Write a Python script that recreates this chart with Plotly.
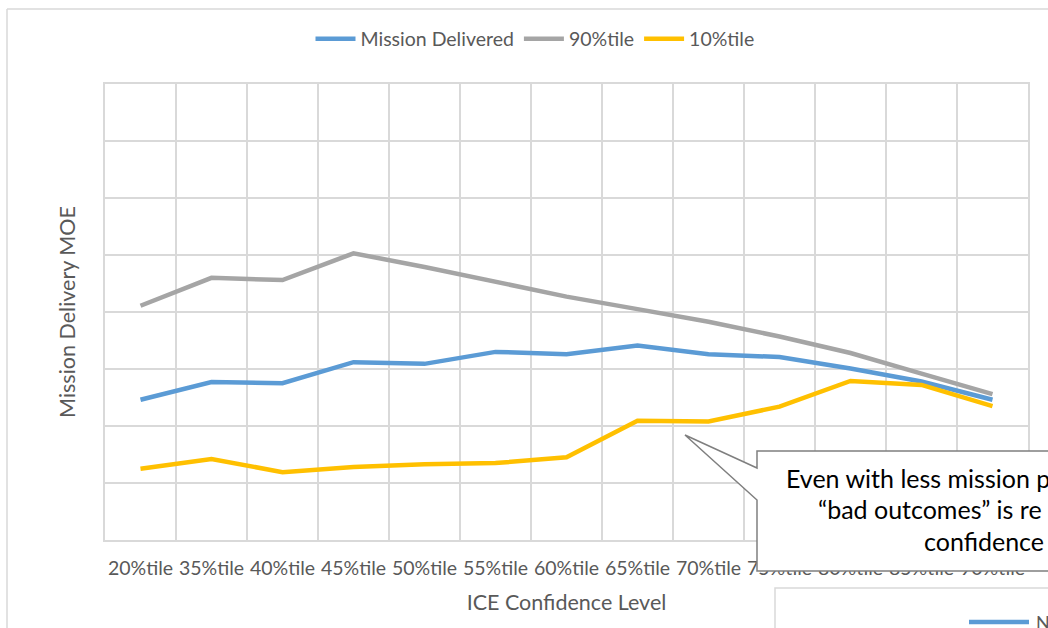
import plotly.graph_objects as go

categories = ["20%tile", "35%tile", "40%tile", "45%tile", "50%tile", "55%tile", "60%tile",
              "65%tile", "70%tile", "75%tile", "80%tile", "85%tile", "90%tile"]
mission_delivered = [2.46, 2.77, 2.75, 3.12, 3.09, 3.30, 3.26, 3.41, 3.26, 3.21, 3.01, 2.78, 2.46]
p90 = [4.11, 4.60, 4.56, 5.03, 4.79, 4.53, 4.27, 4.05, 3.83, 3.57, 3.28, 2.92, 2.56]
p10 = [1.25, 1.42, 1.19, 1.28, 1.33, 1.35, 1.45, 2.09, 2.08, 2.34, 2.79, 2.72, 2.35]

series_names = ["Mission Delivered", "90%tile", "10%tile"]
series_colors = ["#5b9bd5", "#a5a5a5", "#ffc000"]

callout_lines = ["Even with less mission p", "\u201cbad outcomes\u201d is re", "confidence"]

W, H = 1048, 628
L, R, T, B = 105, 1028, 84, 540


def PX(px):
    return (px - L) / (R - L)


def PY(py):
    return (B - py) / (B - T)


fig = go.Figure()
for name, vals, col in zip(series_names, [mission_delivered, p90, p10], series_colors):
    fig.add_trace(go.Scatter(x=categories, y=vals, name=name, mode="lines",
                             line=dict(color=col, width=4.5)))

font_main = "Lato, 'Open Sans', sans-serif"
grid = "#d9d9d9"

fig.update_layout(
    width=W, height=H,
    margin=dict(l=L, r=W - R, t=T, b=H - B, autoexpand=False),
    paper_bgcolor="white", plot_bgcolor="white",
    font=dict(family=font_main, color="#595959", size=19),
    showlegend=True,
    legend=dict(orientation="h", xref="container", yref="container",
                x=535 / W, xanchor="center", y=1 - 39 / H, yanchor="middle",
                font=dict(size=19.5, color="#595959"), itemwidth=40,
                bgcolor="rgba(0,0,0,0)"),
    xaxis=dict(type="category", range=[-0.5, 12.5], tickson="boundaries",
               showgrid=True, gridcolor=grid, gridwidth=1.5, ticks="",
               tickangle=0, automargin=False,
               showline=True, linecolor=grid, linewidth=1.5, mirror=True,
               ticklabelstandoff=10, tickfont=dict(size=19.5, color="#595959"),
               title=dict(text="ICE Confidence Level", standoff=17,
                          font=dict(size=21.5, color="#595959"))),
    yaxis=dict(range=[0, 8], dtick=1, showticklabels=False, showgrid=True,
               gridcolor=grid, gridwidth=1.5, zeroline=False, automargin=False,
               showline=True, linecolor=grid, linewidth=1.5, mirror=True,
               title=dict(text="Mission Delivery MOE", standoff=22,
                          font=dict(size=21.5, color="#595959"))),
)

shapes = []
# outer chart border (partially visible)
shapes.append(dict(type="line", xref="paper", yref="paper", x0=PX(7), x1=PX(1060),
                   y0=PY(9), y1=PY(9), line=dict(color=grid, width=1.5), layer="below"))
shapes.append(dict(type="line", xref="paper", yref="paper", x0=PX(7), x1=PX(7),
                   y0=PY(9), y1=PY(640), line=dict(color=grid, width=1.5), layer="below"))

# callout with wedge
pts = [(757, 451), (1070, 451), (1070, 571), (757, 571), (757, 500), (685, 435), (757, 468)]
path = "M " + " L ".join(f"{PX(x):.5f},{PY(y):.5f}" for x, y in pts) + " Z"
shapes.append(dict(type="path", xref="paper", yref="paper", path=path,
                   fillcolor="white", line=dict(color="#7f7f7f", width=1.5), layer="above"))

# second chart legend box bottom right (partially visible)
shapes.append(dict(type="rect", xref="paper", yref="paper", x0=PX(775), x1=PX(1070),
                   y0=PY(588), y1=PY(650), fillcolor="white",
                   line=dict(color=grid, width=1.5), layer="above"))
shapes.append(dict(type="line", xref="paper", yref="paper", x0=PX(969), x1=PX(1029),
                   y0=PY(622), y1=PY(622), line=dict(color="#5b9bd5", width=4.5), layer="above"))
fig.update_layout(shapes=shapes)

ann = []
starts = [784, 816, 922]
ys = [478, 509, 541]
for t, x0, y0 in zip(callout_lines, starts, ys):
    ann.append(dict(text=t, xref="paper", yref="paper", x=PX(x0), y=PY(y0),
                    xanchor="left", yanchor="middle", showarrow=False,
                    font=dict(size=25, color="black", family=font_main)))
ann.append(dict(text="N", xref="paper", yref="paper", x=PX(1034), y=PY(622),
                xanchor="left", yanchor="middle", showarrow=False,
                font=dict(size=18, color="#595959", family=font_main)))
fig.update_layout(annotations=ann)

fig.write_html("out.html")
